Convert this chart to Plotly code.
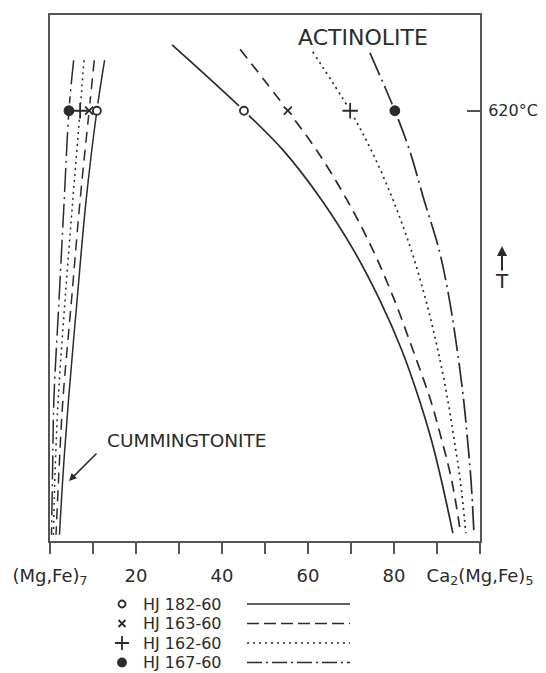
import plotly.graph_objects as go

W, H = 546, 673
T620 = 81.8  # relative temperature level of the 620 °C isotherm

# ---- Actinolite limbs: composition (%) vs relative temperature ----
act_solid_x   = [28.4, 45.1, 54.2, 63.2, 70.6, 76.7, 81.8, 85.9, 88.7, 91.0, 93.7]
act_dashed_x  = [44.2, 55.3, 62.0, 69.1, 75.1, 80.1, 84.4, 88.5, 91.1, 93.4, 95.5]
act_dotted_x  = [61.1, 69.8, 74.7, 79.8, 84.0, 87.4, 90.2, 92.5, 94.0, 95.4, 96.7]
act_dashdot_x = [74.4, 80.2, 83.6, 87.0, 90.5, 92.9, 94.7, 96.2, 97.1, 97.9, 98.6]
act_solid_y   = [94.3, 81.8, 74.3, 64.8, 55.3, 45.8, 36.3, 26.8, 19.2, 11.6, 1.5]
act_dashed_y  = [93.5, 81.8, 74.3, 64.8, 55.3, 45.8, 36.3, 26.8, 19.2, 11.6, 1.5]
act_dotted_y  = [93.0, 81.8, 74.3, 64.8, 55.3, 45.8, 36.3, 26.8, 19.2, 11.6, 1.5]
act_dashdot_y = [92.8, 81.8, 74.3, 64.8, 55.3, 45.8, 36.3, 26.8, 19.2, 11.6, 1.5]

# ---- Cummingtonite limbs ----
cum_y         = [91.4, 81.8, 64.8, 45.8, 26.8, 13.5, 1.2]
cum_solid_x   = [12.7, 10.9, 8.4, 6.3, 4.3, 3.1, 2.2]
cum_dashed_x  = [10.3, 9.1, 7.0, 5.0, 3.0, 2.1, 1.4]
cum_dotted_x  = [7.9, 7.0, 5.3, 3.5, 1.9, 1.2, 0.8]
cum_dashdot_x = [5.5, 4.4, 3.3, 2.1, 0.9, 0.6, 0.35]

# ---- 620 °C coexisting compositions ----
samples   = ["HJ 182-60", "HJ 163-60", "HJ 162-60", "HJ 167-60"]
mark_cum  = [10.9, 9.1, 7.0, 4.4]
mark_act  = [45.1, 55.3, 69.8, 80.2]

tick_vals = [0, 10, 20, 30, 40, 50, 60, 70, 80, 90, 100]
tick_text = ["(Mg,Fe)<sub>7</sub>", "", "20", "", "40", "", "60", "", "80", "",
             "Ca<sub>2</sub>(Mg,Fe)<sub>5</sub>"]

INK = "#2b2b2b"
FRAME = "#555555"
FONT = "DejaVu Sans"
dashes = ["solid", "11px,7px", "2px,4px", "24px,5px,2px,5px"]
leg_dashes = ["solid", "12px,5px", "2px,4px", "15px,4px,2px,4px"]
symbols = ["circle-open", "x-thin-open", "cross-thin-open", "circle"]
sizes = [8, 8, 11, 9]

fig = go.Figure()

act_x = [act_solid_x, act_dashed_x, act_dotted_x, act_dashdot_x]
act_y = [act_solid_y, act_dashed_y, act_dotted_y, act_dashdot_y]
cum_x = [cum_solid_x, cum_dashed_x, cum_dotted_x, cum_dashdot_x]

for i in range(4):
    fig.add_trace(go.Scatter(x=act_x[i], y=act_y[i], mode="lines",
                             line=dict(color=INK, width=1.7, dash=dashes[i], shape="spline"),
                             hoverinfo="skip", showlegend=False))
    fig.add_trace(go.Scatter(x=cum_x[i], y=cum_y, mode="lines",
                             line=dict(color=INK, width=1.5, dash=dashes[i], shape="spline"),
                             hoverinfo="skip", showlegend=False))

# white halos to break lines around markers
fig.add_trace(go.Scatter(x=mark_act, y=[T620] * 4, mode="markers",
                         marker=dict(symbol="circle", size=14, color="white"),
                         hoverinfo="skip", showlegend=False))
fig.add_trace(go.Scatter(x=mark_cum, y=[T620 + 0.3] * 4, mode="markers",
                         marker=dict(symbol="circle", size=12, color="white"),
                         hoverinfo="skip", showlegend=False))

for i in range(4):
    fig.add_trace(go.Scatter(x=[mark_act[i], mark_cum[i]], y=[T620, T620], mode="markers",
                             marker=dict(symbol=symbols[i], size=sizes[i], color=INK,
                                         line=dict(color=INK, width=1.8)),
                             name=samples[i], showlegend=False))

# ---- legend (drawn in pixel space on an overlay axis) ----
leg_rows = [604, 623.5, 643, 662.5]
for i in range(4):
    fig.add_trace(go.Scatter(x=[122], y=[leg_rows[i]], mode="markers", xaxis="x2", yaxis="y2",
                             marker=dict(symbol=symbols[i], size=sizes[i] - 1, color=INK,
                                         line=dict(color=INK, width=1.8)),
                             hoverinfo="skip", showlegend=False))
    fig.add_trace(go.Scatter(x=[247, 350], y=[leg_rows[i], leg_rows[i]], mode="lines",
                             xaxis="x2", yaxis="y2",
                             line=dict(color=INK, width=1.5, dash=leg_dashes[i]),
                             hoverinfo="skip", showlegend=False))

annotations = []
for i in range(4):
    annotations.append(dict(x=141, y=leg_rows[i], xref="x2", yref="y2",
                            text=samples[i], showarrow=False, xanchor="left", yanchor="middle",
                            font=dict(family=FONT, size=16, color=INK)))

annotations += [
    dict(x=363, y=37, xref="x2", yref="y2", text="ACTINOLITE",
         showarrow=False, font=dict(family=FONT, size=22, color=INK)),
    dict(x=187, y=440, xref="x2", yref="y2", text="CUMMINGTONITE",
         showarrow=False, font=dict(family=FONT, size=18.5, color=INK)),
    dict(x=69, y=481, xref="x2", yref="y2", text="", showarrow=True,
         ax=98, ay=452, axref="x2", ayref="y2",
         arrowhead=2, arrowsize=1, arrowwidth=1.5, arrowcolor=INK),
    dict(x=502, y=246, xref="x2", yref="y2", text="", showarrow=True,
         ax=502, ay=272, axref="x2", ayref="y2",
         arrowhead=2, arrowsize=1, arrowwidth=2, arrowcolor=INK),
    dict(x=502, y=281, xref="x2", yref="y2", text="T",
         showarrow=False, font=dict(family=FONT, size=20, color=INK)),
]

fig.update_layout(
    width=W, height=H,
    margin=dict(l=0, r=0, t=0, b=0, pad=0, autoexpand=False),
    paper_bgcolor="white", plot_bgcolor="rgba(0,0,0,0)",
    showlegend=False,
    font=dict(family=FONT, color=INK),
    xaxis=dict(domain=[50 / W, 480 / W], range=[0, 100], showline=True, mirror=True,
               linecolor=FRAME, linewidth=2, ticks="outside", ticklen=11, tickwidth=2,
               tickcolor=FRAME, tickvals=tick_vals, ticktext=tick_text,
               tickfont=dict(family=FONT, size=18, color=INK), automargin=False,
               ticklabelstandoff=6,
               showgrid=False, zeroline=False, fixedrange=True),
    yaxis=dict(domain=[1 - 541 / H, 1 - 15 / H], range=[0, 100], side="right",
               showline=True, mirror=True, linecolor=FRAME, linewidth=2,
               ticks="inside", ticklen=13, tickwidth=2, tickcolor=FRAME,
               tickvals=[T620], ticktext=["620°C"], automargin=False,
               ticklabelstandoff=3,
               tickfont=dict(family=FONT, size=16, color=INK),
               showgrid=False, zeroline=False, fixedrange=True),
    xaxis2=dict(domain=[0, 1], range=[0, W], visible=False, anchor="y2",
                fixedrange=True, automargin=False),
    yaxis2=dict(domain=[0, 1], range=[H, 0], visible=False, anchor="x2",
                fixedrange=True, automargin=False),
    annotations=annotations,
)

fig.write_html("out.html", config={"displayModeBar": False},
               post_script="document.body.style.margin='0';document.body.style.overflow='hidden';")
